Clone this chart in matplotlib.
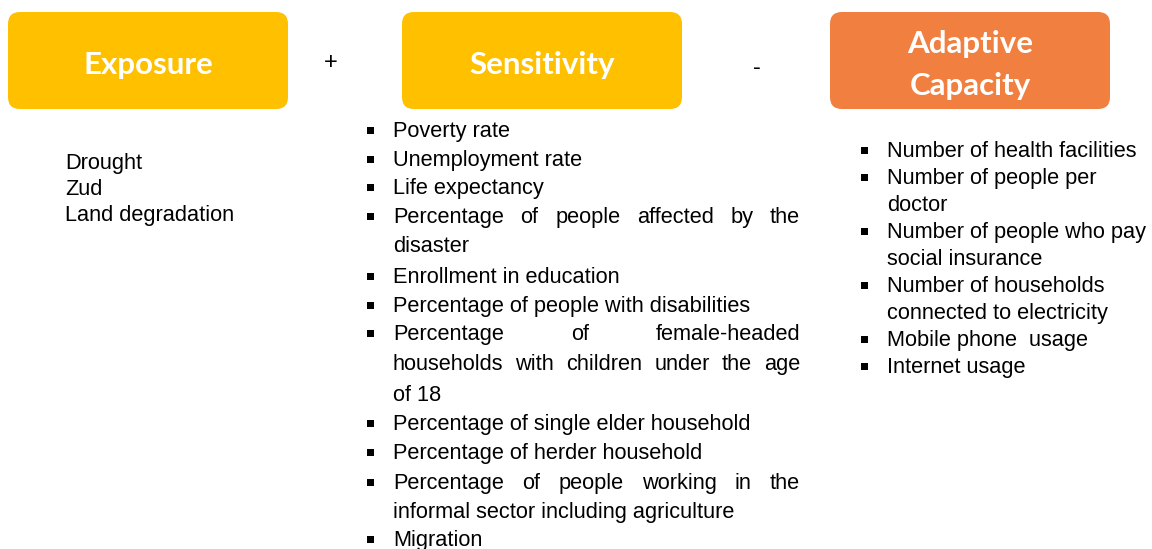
import matplotlib
matplotlib.use('Agg')
import matplotlib.pyplot as plt
from matplotlib.patches import FancyBboxPatch, Rectangle

# ── Content ───────────────────────────────────────────────────────────────────
HEADERS = ['Exposure', 'Sensitivity', 'Adaptive\nCapacity']
OPERATORS = ['+', '-']

exposure_items = ['Drought', 'Zud', 'Land degradation']

# (text, starts a bullet, justified)
sensitivity_lines = [
    ('Poverty rate', True, False),
    ('Unemployment rate', True, False),
    ('Life expectancy', True, False),
    ('Percentage of people affected by the', True, True),
    ('disaster', False, False),
    ('Enrollment in education', True, False),
    ('Percentage of people with disabilities', True, False),
    ('Percentage of female-headed', True, True),
    ('households with children under the age', False, True),
    ('of 18', False, False),
    ('Percentage of single elder household', True, False),
    ('Percentage of herder household', True, False),
    ('Percentage of people working in the', True, True),
    ('informal sector including agriculture', False, False),
    ('Migration', True, False),
]
sensitivity_y = [129, 158, 186, 215, 244, 275, 304, 332, 362, 393, 422, 451, 481, 510, 538]

adaptive_lines = [
    ('Number of health facilities', True),
    ('Number of people per', True),
    ('doctor', False),
    ('Number of people who pay', True),
    ('social insurance', False),
    ('Number of households', True),
    ('connected to electricity', False),
    ('Mobile phone  usage', True),
    ('Internet usage', True),
]
adaptive_y = [149, 176, 203, 230, 257, 284, 311, 338, 365]

# ── Style ─────────────────────────────────────────────────────────────────────
YELLOW = '#FFC000'
ORANGE = '#F07F40'
DARK = '#000000'
BODY_FONT = 'Liberation Sans'
BODY_SIZE = 15.7
BASE = 8  # baseline offset below the line centre (px)

fig = plt.figure(figsize=(11.52, 5.49), dpi=100)
ax = fig.add_axes([0, 0, 1, 1])
ax.set_xlim(0, 1152)
ax.set_ylim(549, 0)
ax.axis('off')
renderer = fig.canvas.get_renderer()

# header boxes
box_x = [8, 402, 830]
box_colors = [YELLOW, YELLOW, ORANGE]
for x0, col, label in zip(box_x, box_colors, HEADERS):
    ax.add_patch(FancyBboxPatch((x0 + 12, 24), 280 - 24, 97 - 24,
                                boxstyle='round,pad=12', fc=col, ec='none'))
    ax.text(x0 + 140, 65, label, ha='center', va='center', fontsize=22.5,
            fontweight='bold', family='Lato', color='white', linespacing=1.6)

ax.text(331, 63, OPERATORS[0], ha='center', va='center', fontsize=17,
        family=BODY_FONT, color=DARK)
ax.text(757, 68, OPERATORS[1], ha='center', va='center', fontsize=17,
        family=BODY_FONT, color=DARK)


def put(x, y, s):
    return ax.text(x, y + BASE, s, ha='left', va='baseline', fontsize=BODY_SIZE,
                   family=BODY_FONT, color=DARK)


# exposure list
for i, item in enumerate(exposure_items):
    put(65, 161 + i * 26, item)


def bullet(x, y):
    ax.add_patch(Rectangle((x - 3.5, y - 2.5), 7, 7, fc=DARK, ec='none'))


def draw_line(x0, x1, y, text, justify):
    if not justify:
        put(x0, y, text)
        return
    words = text.split()
    arts = [put(0, y, w) for w in words]
    widths = [a.get_window_extent(renderer).width for a in arts]
    gap = (x1 - x0 - sum(widths)) / (len(words) - 1)
    x = x0
    for a, w in zip(arts, widths):
        a.set_x(x)
        x += w + gap


for (text, has_bullet, just), y in zip(sensitivity_lines, sensitivity_y):
    if has_bullet:
        bullet(370, y)
    draw_line(393, 800, y, text, just)

for (text, has_bullet), y in zip(adaptive_lines, adaptive_y):
    if has_bullet:
        bullet(864, y)
    draw_line(887, 1150, y, text, False)

fig.savefig('out.png', dpi=100, facecolor='white')
